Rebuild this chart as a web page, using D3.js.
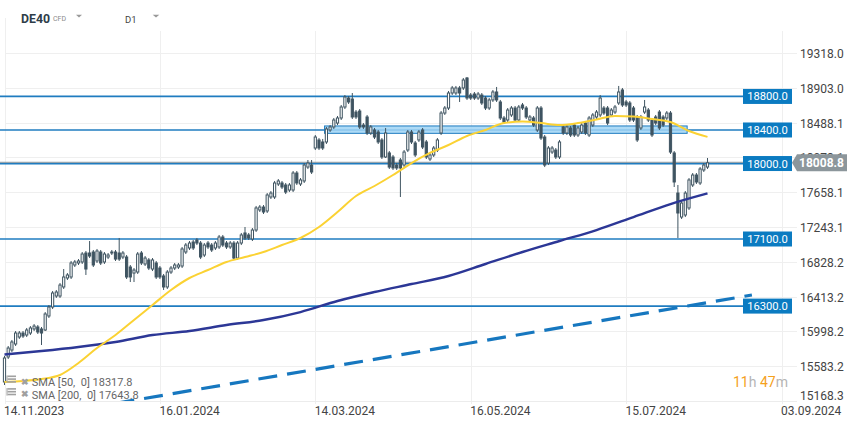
<!DOCTYPE html>
<html><head><meta charset="utf-8">
<script src="https://cdn.jsdelivr.net/npm/d3@7"></script>
<style>
body{margin:0;background:#fff;}
svg{display:block;font-family:Roboto,"Noto Sans",sans-serif;}
</style>
</head><body>
<svg id="c" width="859" height="427"></svg>
<script>
// ---------------- DATA ----------------
const opens = [15395,15693,15776,15848,15931,15979,15955,15979,16027,16051,
16027,16015,16182,16289,16420,16420,16528,16635,16647,16790,
16814,16826,16933,16933,16945,16838,16945,16826,16885,16933,
16945,16933,16885,16885,16766,16694,16706,16933,16802,16850,
16742,16814,16754,16659,16528,16706,16754,16766,16778,16945,
16993,17064,17088,17052,16909,17052,17028,16993,17005,17124,
17052,17005,17052,16873,17052,17172,17148,17100,17207,17446,
17481,17434,17601,17601,17756,17768,17744,17684,17684,17887,
17756,17792,17958,17982,18185,18281,18257,18257,18400,18436,
18483,18543,18674,18781,18769,18614,18626,18459,18555,18364,
18400,18376,18281,18078,18126,18078,17982,18042,17982,18161,
18376,18245,18281,18400,18257,18054,18102,18161,18364,18602,
18662,18841,18841,18901,18901,19020,18817,18829,18781,18817,
18781,18662,18758,18853,18734,18543,18519,18579,18662,18519,
18698,18662,18519,18543,18400,18662,18316,18006,18137,18161,
18078,18436,18364,18424,18459,18340,18376,18483,18340,18459,
18555,18579,18662,18662,18579,18614,18722,18877,18734,18722,
18662,18555,18424,18614,18638,18519,18555,18614,18555,18543,
18602,18126,17648,17362,17386,17470,17744,17863,17768,17923,
17958];
const highs = [15705,15824,15896,16003,16003,16003,16039,16062,16086,16074,
16051,16229,16313,16480,16492,16575,16742,16694,16838,16850,
16861,16945,16957,17076,16969,16981,16969,16945,16933,16969,
16969,17112,16957,16909,16790,16754,16945,16957,16897,16873,
16873,16838,16778,16683,16730,16778,16814,16814,17005,17052,
17076,17088,17112,17076,17052,17076,17052,17076,17148,17148,
17076,17076,17076,17076,17172,17243,17172,17231,17494,17505,
17505,17648,17672,17792,17815,17792,17768,17768,17911,17911,
17827,18006,18042,18042,18340,18304,18293,18436,18459,18543,
18567,18698,18817,18805,18841,18638,18650,18483,18579,18459,
18424,18400,18304,18424,18149,18102,18006,18066,18161,18400,
18400,18269,18400,18424,18281,18126,18209,18304,18626,18686,
18865,18925,18925,18925,19020,19032,18841,18853,18853,18841,
18805,18781,18877,18913,18758,18567,18662,18686,18686,18698,
18722,18686,18579,18567,18686,18686,18340,18209,18209,18185,
18281,18459,18459,18448,18483,18448,18483,18507,18567,18602,
18638,18817,18686,18686,18662,18698,18925,18901,18758,18746,
18686,18579,18579,18758,18662,18543,18579,18638,18579,18626,
18626,18149,17744,17553,17672,17827,17887,17887,17958,18006,
18066];
const lows = [15359,15669,15752,15824,15908,15920,15931,15955,16003,15967,
15836,16003,16158,16265,16397,16397,16504,16611,16623,16766,
16790,16802,16671,16873,16766,16814,16790,16802,16861,16909,
16838,16838,16861,16623,16587,16587,16683,16790,16778,16730,
16718,16623,16623,16492,16504,16683,16730,16742,16754,16921,
16969,16969,17028,16861,16885,16981,16945,16969,16981,17005,
16981,16981,16850,16850,17028,17088,17088,17076,17184,17422,
17398,17410,17577,17577,17732,17696,17636,17660,17660,17744,
17732,17768,17935,17875,18161,18161,18161,18233,18376,18412,
18459,18519,18650,18710,18531,18531,18412,18412,18340,18340,
18292,18233,18054,18066,17935,17923,17923,17601,17958,18137,
18233,18078,18257,18173,18054,18030,18078,18137,18340,18579,
18638,18817,18817,18734,18877,18758,18758,18758,18758,18698,
18638,18638,18734,18734,18519,18471,18495,18555,18495,18495,
18638,18531,18495,18436,18376,18281,17958,17982,18114,18054,
18054,18340,18340,18316,18316,18316,18352,18340,18316,18436,
18531,18555,18579,18459,18555,18591,18698,18674,18674,18495,
18495,18257,18400,18591,18495,18316,18459,18400,18436,18519,
18114,17720,17112,17338,17362,17446,17720,17756,17744,17899,
17935];
const closes = [15681,15800,15872,15979,15979,15943,16015,16039,16062,15991,
15979,16206,16289,16456,16468,16551,16647,16671,16814,16826,
16838,16921,16742,16897,16790,16957,16814,16921,16909,16945,
16861,16861,16933,16647,16647,16730,16921,16814,16873,16754,
16850,16647,16647,16528,16706,16754,16790,16790,16981,17028,
17052,16993,17052,16885,17028,17005,16969,17052,17124,17028,
17005,17052,16873,17052,17148,17112,17112,17207,17470,17481,
17422,17625,17648,17768,17792,17720,17660,17744,17887,17768,
17804,17982,18006,17899,18316,18185,18185,18412,18436,18519,
18543,18674,18793,18734,18555,18555,18436,18436,18364,18436,
18316,18257,18078,18364,17958,17947,17947,17947,18137,18376,
18257,18102,18376,18197,18078,18102,18185,18281,18602,18662,
18841,18901,18901,18841,18996,18781,18781,18781,18829,18722,
18662,18758,18853,18758,18543,18495,18638,18662,18519,18674,
18662,18555,18555,18459,18662,18304,17982,18185,18185,18078,
18257,18364,18436,18340,18340,18424,18459,18364,18543,18579,
18614,18781,18602,18483,18638,18674,18853,18698,18698,18519,
18519,18281,18555,18674,18519,18340,18483,18424,18459,18602,
18137,17780,17410,17529,17648,17804,17863,17780,17935,17982,
18008.8];

const sma50Idx = [0,5,10,15,20,25,30,35,40,45,50,55,60,65,70,75,80,85,90,95,100,105,110,115,120,125,130,135,140,145,150,155,160,165,170,175,180,185,190];
const sma50Val = [15395,15407,15430,15478,15621,15800,15955,16134,16313,16492,16635,16730,16826,16885,16945,17028,17112,17243,17422,17613,17732,17863,18006,18126,18221,18328,18400,18483,18501,18483,18459,18483,18525,18567,18561,18531,18495,18388,18317.8];
const sma200Idx = [0,10,20,30,40,50,60,70,80,90,100,110,120,130,140,150,160,170,180,190];
const sma200Val = [15723,15764,15812,15872,15955,16003,16074,16134,16229,16361,16468,16563,16659,16802,16945,17076,17207,17362,17517,17643.8];

// axis ticks
const priceTicks = [19318.0,18903.0,18488.1,18073.1,17658.1,17243.1,16828.2,16413.2,15998.2,15583.2,15168.3];
const dateTickIdx = [0,42,84,126,168,210];
const dateTickLabels = ["14.11.2023","16.01.2024","14.03.2024","16.05.2024","15.07.2024","03.09.2024"];

// drawings
const levels = [18800,18400,18000,17100,16300];
const zoneIdx = [86.5,184.5];
const zoneVal = [18360,18448];
const trendIdx = [30,202];
const trendVal = [15140,16432];
const lastPrice = 18008.8;
const legendNames = ["SMA [50,  0]","SMA [200,  0]"];
const legendVals = [18317.8,17643.8];

// ---------------- CHART ----------------
const svg = d3.select("#c");
const x = d3.scaleLinear().domain([0,210]).range([4.5,781.5]);
const y = d3.scaleLinear().domain([15168.3,19318.0]).range([401,53]);
const fmt = d3.format(".1f");

svg.append("defs").append("clipPath").attr("id","plot")
  .append("rect").attr("x",0).attr("y",31).attr("width",797).attr("height",370);

// grid
const g = svg.append("g");
g.selectAll("line.h").data(priceTicks).join("line")
  .attr("x1",5).attr("x2",797)
  .attr("y1",d=>Math.round(y(d))+0.5).attr("y2",d=>Math.round(y(d))+0.5)
  .attr("stroke","#efefef");
g.selectAll("line.v").data(dateTickIdx).join("line")
  .attr("x1",d=>Math.round(x(d))+0.5).attr("x2",d=>Math.round(x(d))+0.5)
  .attr("y1",(d,i)=>i===0?18:31).attr("y2",404)
  .attr("stroke","#efefef");
g.append("line").attr("x1",5).attr("x2",797).attr("y1",401.5).attr("y2",401.5).attr("stroke","#ececec");

// levels (under candles)
const lv = svg.append("g");
lv.selectAll("line").data(levels).join("line")
  .attr("x1",0).attr("x2",743)
  .attr("y1",d=>y(d)).attr("y2",d=>y(d))
  .attr("stroke","#1f7cc0").attr("stroke-width",1.7);

// zone
svg.append("rect")
  .attr("x",x(zoneIdx[0])).attr("width",x(zoneIdx[1])-x(zoneIdx[0]))
  .attr("y",y(zoneVal[1])).attr("height",y(zoneVal[0])-y(zoneVal[1]))
  .attr("fill","#9fd3f5").attr("fill-opacity",0.85)
  .attr("stroke","#1f7cc0").attr("stroke-width",1);

// price line
svg.append("line").attr("x1",0).attr("x2",792)
  .attr("y1",y(lastPrice)-0.5).attr("y2",y(lastPrice)-0.5)
  .attr("stroke","#8c969b").attr("stroke-width",1);

// candles
const candleColor = "#3f5461";
const cg = svg.append("g").attr("clip-path","url(#plot)");
const idx = d3.range(closes.length);
cg.selectAll("line.w").data(idx).join("line")
  .attr("x1",i=>x(i)).attr("x2",i=>x(i))
  .attr("y1",i=>y(highs[i])).attr("y2",i=>y(lows[i]))
  .attr("stroke",candleColor).attr("stroke-width",1);
cg.selectAll("rect.b").data(idx).join("rect")
  .attr("x",i=>x(i)-1.1).attr("width",2.2)
  .attr("y",i=>y(Math.max(opens[i],closes[i])))
  .attr("height",i=>Math.max(1,Math.abs(y(opens[i])-y(closes[i]))))
  .attr("fill",i=>closes[i]>=opens[i]?"#ffffff":candleColor)
  .attr("stroke",candleColor).attr("stroke-width",1);

// SMAs
const line = d3.line().x(d=>x(d[0])).y(d=>y(d[1])).curve(d3.curveMonotoneX);
const pg = svg.append("g").attr("clip-path","url(#plot)");
pg.append("path").attr("d",line(sma200Idx.map((d,i)=>[d,sma200Val[i]])))
  .attr("fill","none").attr("stroke","#2c3796").attr("stroke-width",2.4);
pg.append("path").attr("d",line(sma50Idx.map((d,i)=>[d,sma50Val[i]])))
  .attr("fill","none").attr("stroke","#fbd233").attr("stroke-width",2);

// trend line
pg.append("line")
  .attr("x1",x(trendIdx[0])).attr("y1",y(trendVal[0]))
  .attr("x2",x(trendIdx[1])).attr("y2",y(trendVal[1]))
  .attr("stroke","#1677bf").attr("stroke-width",3.2)
  .attr("stroke-dasharray","19 10");

// y tick labels
svg.append("g").selectAll("text").data(priceTicks).join("text")
  .attr("x",800).attr("y",d=>Math.min(Math.round(y(d))+4.5,396+4.3))
  .attr("font-size",12).attr("fill","#444")
  .text(d=>fmt(d));

// date labels
svg.append("g").selectAll("text").data(dateTickIdx).join("text")
  .attr("x",d=>x(d)-0.5).attr("y",415)
  .attr("font-size",12).attr("fill","#444")
  .text((d,i)=>dateTickLabels[i]);

// level boxes
const lb = svg.append("g");
levels.forEach(v=>{
  const yy = y(v);
  lb.append("rect").attr("x",743).attr("y",yy-7.5).attr("width",49).attr("height",15)
    .attr("fill","#0b7bc1");
  lb.append("text").attr("x",767.5).attr("y",yy+4).attr("text-anchor","middle")
    .attr("font-size",11.2).attr("fill","#fff").text(fmt(v));
});

// last price label
const py = y(lastPrice);
svg.append("path")
  .attr("d",`M792,${py} L797,${py-8.5} L847,${py-8.5} L847,${py+8.5} L797,${py+8.5} Z`)
  .attr("fill","#8c969b");
svg.append("text").attr("x",821.5).attr("y",py+4.3).attr("text-anchor","middle")
  .attr("font-size",12).attr("font-weight","bold").attr("fill","#fff").text(fmt(lastPrice));

// header
svg.append("text").attr("x",21).attr("y",22.7).attr("font-size",12.3).attr("font-weight","bold")
  .attr("fill","#2e3d49").text("DE40");
svg.append("text").attr("x",53).attr("y",21.3).attr("font-size",7).attr("fill","#8a8a8a").text("CFD");
svg.append("path").attr("d","M76,14.7 L82,14.7 L79,17.5 Z").attr("fill","#999");
svg.append("text").attr("x",125).attr("y",22.7).attr("font-size",9.5).attr("fill","#444").text("D1");
svg.append("path").attr("d","M152.7,14.7 L159.3,14.7 L156,17.5 Z").attr("fill","#999");

// legend
const leg = svg.append("g");
legendNames.forEach((n,i)=>{
  const by = 386 + i*12.6;
  const ig = leg.append("g").attr("fill","#a0a0a0");
  ig.append("rect").attr("x",7.5).attr("y",by-10.5).attr("width",8.5).attr("height",1.6);
  ig.append("rect").attr("x",7.5).attr("y",by-7.7).attr("width",8.5).attr("height",1.6);
  ig.append("rect").attr("x",7.5).attr("y",by-4.9).attr("width",8.5).attr("height",1.6);
  ig.append("rect").attr("x",6.5).attr("y",by-10.5).attr("width",1).attr("height",7.5);
  leg.append("text").attr("x",20.5).attr("y",by-1.5).attr("font-size",9).attr("font-weight","bold")
    .attr("fill","#a0a0a0").text("✖");
  leg.append("text").attr("x",31.7).attr("y",by).attr("font-size",11).attr("fill","#666")
    .attr("xml:space","preserve").text(n+" "+fmt(legendVals[i]));
});

// countdown
const cd = svg.append("text").attr("x",733).attr("y",386.7).attr("font-size",14);
cd.append("tspan").attr("fill","#f5a11c").text("11");
cd.append("tspan").attr("fill","#b5b5b5").text("h ");
cd.append("tspan").attr("fill","#f5a11c").text("47");
cd.append("tspan").attr("fill","#b5b5b5").text("m");
</script>
</body></html>
